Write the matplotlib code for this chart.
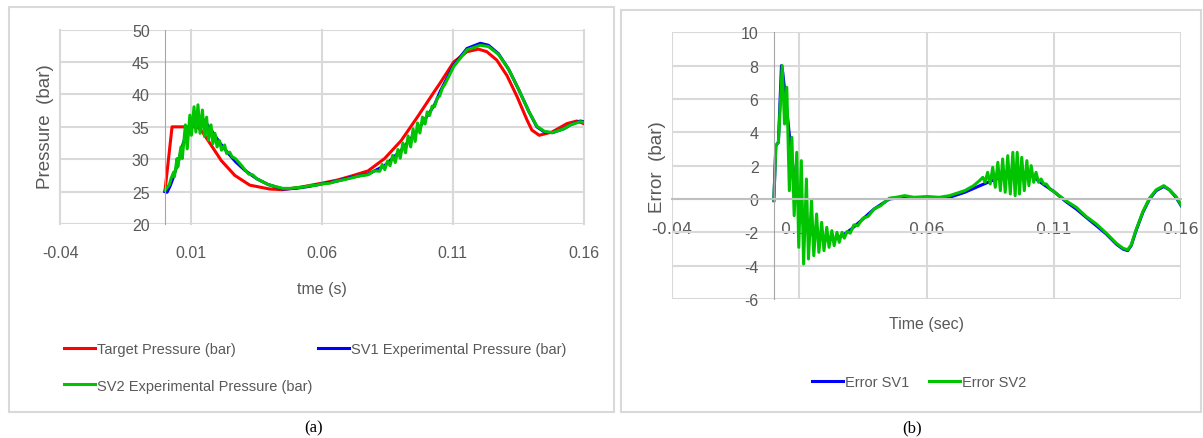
import matplotlib
matplotlib.use('Agg')
import matplotlib.pyplot as plt
from matplotlib.patches import Rectangle

# ---- data ----
x_ticks = [-0.04, 0.01, 0.06, 0.11, 0.16]
x_ticklabels = ['-0.04', '0.01', '0.06', '0.11', '0.16']
p_ticks = [20, 25, 30, 35, 40, 45, 50]
e_ticks = [-6, -4, -2, 0, 2, 4, 6, 8, 10]

# (a) pressure
t_target = [0, 0.0027, 0.0115, 0.013, 0.0143, 0.0176, 0.0215, 0.0267, 0.0324, 0.040,
            0.045, 0.052, 0.060, 0.066, 0.0712, 0.0776, 0.0839, 0.0903, 0.0966, 0.103,
            0.1052, 0.1103, 0.1154, 0.1198, 0.123, 0.1268, 0.1307, 0.1345, 0.1383, 0.1402,
            0.1430, 0.1479, 0.1536, 0.1574, 0.16]
p_target = [25.1, 35.0, 35.0, 34.8, 34.2, 32.2, 29.8, 27.5, 26.0, 25.4,
            25.3, 25.7, 26.3, 26.8, 27.4, 28.2, 30.1, 32.9, 36.6, 40.5,
            41.8, 45.0, 46.6, 47.0, 46.6, 45.3, 42.9, 39.7, 36.1, 34.5,
            33.7, 34.2, 35.5, 35.9, 35.5]

t_sv1 = [0, 0.0008, 0.002, 0.003, 0.005, 0.007, 0.009, 0.011, 0.013, 0.015,
         0.018, 0.021, 0.024, 0.027, 0.0305, 0.035, 0.0394, 0.045, 0.050, 0.055,
         0.060, 0.0655, 0.0712, 0.0776, 0.0839, 0.0903, 0.0966, 0.103, 0.1052, 0.1103,
         0.1154, 0.1205, 0.1236, 0.1274, 0.1313, 0.1351, 0.139, 0.1421, 0.1450, 0.1480,
         0.1524, 0.1549, 0.1587, 0.16]
p_sv1 = [25.0, 24.9, 25.9, 27.0, 29.5, 32.5, 34.7, 36.0, 36.5, 36.0,
         34.3, 32.5, 31.0, 29.6, 28.3, 27.0, 26.1, 25.4, 25.5, 25.8,
         26.2, 26.6, 27.2, 27.7, 29.0, 31.4, 34.5, 38.4, 40.5, 44.5,
         47.1, 47.9, 47.6, 46.3, 43.9, 40.8, 37.4, 35.0, 34.2, 34.1,
         34.7, 35.3, 35.9, 35.8]

t_sv2 = [0, 0.0017, 0.0023, 0.0033, 0.0036, 0.0046, 0.0049, 0.0061, 0.0066, 0.0078,
         0.0085, 0.0095, 0.0101, 0.0111, 0.0118, 0.0126, 0.0134, 0.0143, 0.0151, 0.0159,
         0.0166, 0.0176, 0.0183, 0.0191, 0.0199, 0.0208, 0.0216, 0.0228, 0.0235, 0.0247,
         0.0256, 0.0269, 0.0280, 0.0293, 0.0305, 0.032, 0.0335, 0.035, 0.037, 0.0394,
         0.042, 0.045, 0.048, 0.050, 0.053, 0.055, 0.058, 0.060, 0.063, 0.0655,
         0.068, 0.0712, 0.074, 0.0776, 0.080, 0.0821, 0.0830, 0.0840, 0.0850, 0.0860,
         0.0870, 0.0880, 0.0890, 0.0899, 0.0909, 0.0919, 0.0929, 0.0939, 0.0948, 0.0956,
         0.0965, 0.0974, 0.0984, 0.0994, 0.1002, 0.1011, 0.1021, 0.1030, 0.1040, 0.1050,
         0.1060, 0.1070, 0.1103, 0.1154, 0.1205, 0.1236, 0.1274, 0.1313, 0.1351, 0.139,
         0.1421, 0.145, 0.148, 0.1524, 0.1549, 0.1587, 0.16]
p_sv2 = [25.2, 26.1, 27.0, 28.0, 27.3, 30.1, 28.8, 31.9, 30.1, 35.3,
         31.6, 36.8, 33.7, 38.1, 34.2, 38.4, 34.0, 37.6, 33.5, 36.5,
         32.9, 35.3, 32.4, 34.0, 31.9, 32.9, 31.4, 32.2, 30.9, 31.1,
         30.4, 30.1, 29.6, 29.0, 28.4, 27.7, 27.6, 27.0, 26.6, 26.1,
         25.8, 25.5, 25.5, 25.6, 25.7, 25.9, 26.0, 26.2, 26.3, 26.6,
         26.8, 27.1, 27.4, 27.6, 28.2, 28.15, 29.2, 28.4, 29.7, 29.0,
         30.6, 29.5, 31.5, 30.15, 32.5, 31.0, 33.6, 31.9, 34.7, 32.75,
         35.6, 34.05, 36.5, 35.45, 37.3, 36.75, 38.2, 38.1, 39.4, 39.8,
         41.0, 41.6, 44.3, 46.9, 47.6, 47.4, 46.2, 43.9, 40.8, 37.4,
         35.1, 34.3, 34.1, 34.7, 35.3, 35.8, 35.7]

# (b) error
t_err1 = [0, 0.0008, 0.0018, 0.003, 0.0035, 0.005, 0.007, 0.009, 0.011, 0.013,
          0.015, 0.018, 0.021, 0.024, 0.027, 0.0305, 0.035, 0.0394, 0.0454, 0.0514,
          0.0603, 0.069, 0.075, 0.081, 0.0873, 0.0939, 0.0978, 0.1004, 0.1057, 0.110,
          0.1147, 0.1188, 0.1227, 0.1267, 0.1306, 0.1345, 0.1371, 0.139, 0.1404, 0.1423,
          0.145, 0.1476, 0.1502, 0.1532, 0.1554, 0.158, 0.16]
e_sv1 = [-0.1, 3.2, 3.4, 8.0, 7.6, 5.5, 2.5, 0.3, -1.0, -1.7,
         -2.1, -2.35, -2.45, -2.4, -2.2, -1.8, -1.2, -0.6, 0.0, 0.1,
         0.05, 0.1, 0.4, 0.8, 1.2, 1.5, 1.6, 1.5, 0.9, 0.45,
         -0.15, -0.6, -1.1, -1.6, -2.1, -2.7, -3.0, -3.1, -2.8, -1.9,
         -0.8, 0.0, 0.5, 0.75, 0.55, 0.1, -0.4]

t_err2 = [0, 0.0008, 0.0018, 0.0033, 0.0042, 0.0051, 0.0061, 0.0071, 0.0080, 0.0090,
          0.0098, 0.0108, 0.0117, 0.0128, 0.0136, 0.0148, 0.0157, 0.0168, 0.0177, 0.0188,
          0.0197, 0.0208, 0.0217, 0.0228, 0.0237, 0.0248, 0.0257, 0.0268, 0.0277, 0.0288,
          0.030, 0.0315, 0.033, 0.035, 0.037, 0.0394, 0.042, 0.0454, 0.048, 0.0514,
          0.055, 0.0603, 0.065, 0.069, 0.075, 0.0785, 0.0808, 0.0821, 0.0830, 0.0840,
          0.0850, 0.0860, 0.0870, 0.0880, 0.0890, 0.0899, 0.0909, 0.0919, 0.0929, 0.0939,
          0.0948, 0.0956, 0.0965, 0.0974, 0.0984, 0.0994, 0.1002, 0.1011, 0.1021, 0.1030,
          0.1040, 0.1050, 0.1060, 0.1070, 0.1085, 0.110, 0.1147, 0.1188, 0.1227, 0.1267,
          0.1306, 0.1345, 0.1371, 0.139, 0.1404, 0.1423, 0.145, 0.1476, 0.1502, 0.1532,
          0.1554, 0.158, 0.16]
e_sv2 = [-0.1, 3.2, 3.4, 8.0, 4.5, 6.7, 0.5, 3.7, -1.0, 2.8,
         -2.9, 2.3, -3.9, 1.2, -3.6, -0.1, -3.4, -0.9, -3.2, -1.4,
         -3.1, -1.7, -2.9, -1.9, -2.8, -2.0, -2.6, -2.0, -2.35, -1.95,
         -2.05, -1.55, -1.6, -1.15, -1.05, -0.6, -0.4, 0.05, 0.1, 0.2,
         0.1, 0.15, 0.1, 0.2, 0.5, 0.8, 1.1, 1.3, 1.0, 1.6,
         0.9, 1.9, 0.7, 2.2, 0.5, 2.4, 0.4, 2.6, 0.3, 2.8,
         0.2, 2.8, 0.3, 2.5, 0.5, 2.3, 0.8, 2.0, 1.0, 1.6,
         1.0, 1.2, 0.9, 0.9, 0.6, 0.45, -0.1, -0.5, -1.05, -1.5,
         -2.05, -2.65, -2.95, -3.05, -2.75, -1.85, -0.75, 0.05, 0.55, 0.8,
         0.55, 0.15, -0.35]

# ---- styling ----
RED, BLUE, GREEN = '#ff0000', '#0000ff', '#00c400'
GRID = '#d9d9d9'
TXT = '#595959'
SANS = ['Liberation Sans', 'DejaVu Sans']

W, H = 1203, 439
fig = plt.figure(figsize=(W / 100, H / 100), dpi=100)


def fx(px):
    return px / W


def fy(py):
    return 1 - py / H


def add_box(x0, y0, x1, y1):
    fig.add_artist(Rectangle((fx(x0), fy(y1)), fx(x1) - fx(x0), fy(y0) - fy(y1),
                             transform=fig.transFigure, fill=False, ec=GRID, lw=1.5))


def style(ax, yticks, xpad):
    ax.set_xlim(-0.04, 0.16)
    ax.set_xticks(x_ticks)
    ax.set_xticklabels(x_ticklabels)
    ax.set_yticks(yticks)
    ax.set_yticklabels(['%g' % v for v in yticks])
    ax.set_ylim(yticks[0], yticks[-1])
    ax.grid(True, color=GRID, lw=1.5)
    for g in ax.get_xgridlines() + ax.get_ygridlines():
        g.set_clip_on(False)
    ax.set_axisbelow(True)
    for s in ['top', 'right', 'bottom']:
        ax.spines[s].set_visible(False)
    ax.spines['left'].set_position(('data', 0))
    ax.spines['left'].set_color('#a6a6a6')
    ax.spines['left'].set_linewidth(0.8)
    ax.tick_params(axis='both', length=0, labelsize=11.5, labelcolor=TXT)
    ax.tick_params(axis='x', pad=xpad)
    ax.tick_params(axis='y', pad=11)
    for lbl in ax.get_xticklabels() + ax.get_yticklabels():
        lbl.set_family(SANS)


# panel frames
add_box(8.5, 7.5, 613.5, 413)
add_box(620.5, 10.5, 1201, 413)

# (a) pressure chart
ax1 = fig.add_axes([fx(60.3), fy(225), fx(583.7) - fx(60.3), fy(30.7) - fy(225)])
style(ax1, p_ticks, 15)
h_t, = ax1.plot(t_target, p_target, color=RED, lw=2.2, label='Target Pressure (bar)')
h_1, = ax1.plot(t_sv1, p_sv1, color=BLUE, lw=2.2, label='SV1 Experimental Pressure (bar)')
h_2, = ax1.plot(t_sv2, p_sv2, color=GREEN, lw=2.2, label='SV2 Experimental Pressure (bar)')
ax1.set_xlabel('tme (s)', fontsize=11.5, color=TXT, family=SANS)
ax1.xaxis.label.set_va('center')
ax1.xaxis.set_label_coords(0.5, -0.3345)
ax1.set_ylabel('Pressure  (bar)', fontsize=13.5, color=TXT, family=SANS)
ax1.yaxis.label.set_va('center')
ax1.yaxis.set_label_coords(-0.0283, 0.506)
# row-wise order: Target, SV1 on first row, SV2 on second
ax1.legend([h_t, h_2, h_1], [h.get_label() for h in (h_t, h_2, h_1)],
           loc='center left', bbox_to_anchor=(fx(64), fy(368.3)), bbox_transform=fig.transFigure,
           ncol=2, frameon=False, borderpad=0, borderaxespad=0, handlelength=2.1,
           handletextpad=0.15, columnspacing=0.4, labelspacing=1.55,
           prop={'family': SANS, 'size': 10.5}, labelcolor=TXT)

# (b) error chart
ax2 = fig.add_axes([fx(672), fy(300), fx(1181.1) - fx(672), fy(33.3) - fy(300)])
style(ax2, e_ticks, 16)
ax2.spines['bottom'].set_visible(True)
ax2.spines['bottom'].set_position(('data', 0))
ax2.spines['bottom'].set_color('#bfbfbf')
ax2.spines['bottom'].set_linewidth(1.5)
ax2.plot(t_err1, e_sv1, color=BLUE, lw=2.2, label='Error SV1')
ax2.plot(t_err2, e_sv2, color=GREEN, lw=2.2, label='Error SV2')
ax2.set_xlabel('Time (sec)', fontsize=11.5, color=TXT, family=SANS)
ax2.xaxis.label.set_va('center')
ax2.xaxis.set_label_coords(0.499, -0.09)
ax2.set_ylabel('Error  (bar)', fontsize=13.5, color=TXT, family=SANS)
ax2.yaxis.label.set_va('center')
ax2.yaxis.set_label_coords(-0.0275, 0.5)
ax2.legend(loc='center left', bbox_to_anchor=(fx(812), fy(383.3)), bbox_transform=fig.transFigure,
           ncol=2, frameon=False, borderpad=0, borderaxespad=0, handlelength=2.1,
           handletextpad=0.15, columnspacing=1.4,
           prop={'family': SANS, 'size': 10.5}, labelcolor=TXT)

# captions
fig.text(fx(314), fy(428), '(a)', ha='center', va='center', fontsize=12,
         family=['Liberation Serif', 'DejaVu Serif'])
fig.text(fx(912), fy(428), '(b)', ha='center', va='center', fontsize=12,
         family=['Liberation Serif', 'DejaVu Serif'])

fig.savefig('out.png', dpi=100)
